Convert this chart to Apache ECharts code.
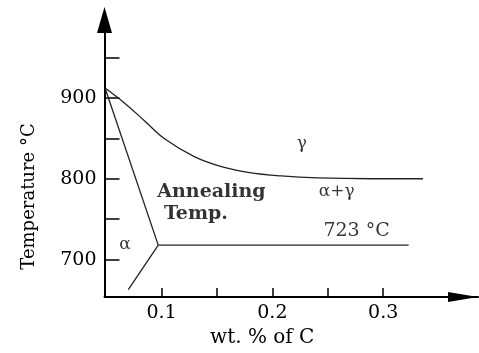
<!DOCTYPE html>
<html>
<head>
<meta charset="utf-8">
<script src="https://cdn.jsdelivr.net/npm/echarts@6/dist/echarts.min.js"></script>
<style>
  html, body { margin: 0; padding: 0; background: #fff; }
  #main { width: 479px; height: 353px; }
</style>
</head>
<body>
<div id="main"></div>
<script>
// 数据 (wt.% C / °C)
var acmCarbon = [0.049, 0.067, 0.085, 0.103, 0.130, 0.154, 0.178, 0.208, 0.241, 0.29, 0.336];
var acmTemp = [912, 893, 871, 849, 827, 815, 808, 803.5, 801, 800, 800];
var a3Carbon = [0.049, 0.097];
var a3Temp = [912, 718];
var a1Carbon = [0.070, 0.097];
var a1Temp = [663, 718];
var eutCarbon = [0.097, 0.323];
var eutTemp = [718, 718];

var xTicks = [0.1, 0.15, 0.2, 0.25, 0.3];
var xLabels = [0.1, 0.2, 0.3];
var yTicks = [700, 750, 800, 850, 900, 950];
var yLabels = [700, 800, 900];

var labelText = ['γ', 'α+γ', 'Annealing', 'Temp.', '723 °C', 'α'];
var labelCarbon = [0.2265, 0.258, 0.145, 0.131, 0.276, 0.067];
var labelTemp = [844, 784, 783, 757, 736, 719];
var labelBold = [false, false, true, true, false, false];

function pairs(xs, ys) {
  return xs.map(function (x, i) { return [x, ys[i]]; });
}

var chart = echarts.init(document.getElementById('main'), null, { renderer: 'canvas' });
var serif = 'DejaVu Serif';
var lineColor = '#222';

function lineSeries(xs, ys, smooth) {
  return {
    type: 'line',
    data: pairs(xs, ys),
    showSymbol: false,
    smooth: smooth ? 0.4 : false,
    lineStyle: { color: lineColor, width: 1.3 },
    silent: true
  };
}

var option = {
  animation: false,
  backgroundColor: '#fff',
  grid: { left: 104.5, right: 1, top: 20, bottom: 54.7 },
  xAxis: {
    type: 'value',
    min: 0.0485,
    max: 0.3856,
    name: 'wt. % of C',
    nameLocation: 'middle',
    nameGap: 31,
    nameTextStyle: { fontFamily: serif, fontSize: 20, color: '#000', padding: [0, 58, 0, 0] },
    axisLine: {
      lineStyle: { color: '#000', width: 2 },
      symbol: ['none', 'triangle'],
      symbolSize: [10, 30],
      symbolOffset: [0, -15]
    },
    axisTick: { show: true, inside: true, length: 9, customValues: xTicks, lineStyle: { color: '#000', width: 1.5 } },
    axisLabel: {
      customValues: xLabels,
      margin: 7,
      fontFamily: serif,
      fontSize: 19,
      color: '#000',
      formatter: function (v) { return v.toFixed(1); }
    },
    splitLine: { show: false }
  },
  yAxis: {
    type: 'value',
    min: 654,
    max: 996,
    name: 'Temperature °C',
    nameLocation: 'middle',
    nameRotate: 90,
    nameGap: 66,
    nameTextStyle: { fontFamily: serif, fontSize: 18, color: '#000', padding: [0, 76, 0, 0] },
    axisLine: {
      lineStyle: { color: '#000', width: 2 },
      symbol: ['none', 'triangle'],
      symbolSize: [15, 26]
    },
    axisTick: { show: true, inside: true, length: 15, customValues: yTicks, lineStyle: { color: '#000', width: 1.5 } },
    axisLabel: {
      customValues: yLabels,
      margin: 8,
      fontFamily: serif,
      fontSize: 19,
      color: '#000'
    },
    splitLine: { show: false }
  },
  series: [
    lineSeries(acmCarbon, acmTemp, true),
    lineSeries(a3Carbon, a3Temp, false),
    lineSeries(a1Carbon, a1Temp, false),
    lineSeries(eutCarbon, eutTemp, false),
    {
      type: 'scatter',
      symbolSize: 0,
      silent: true,
      data: labelText.map(function (t, i) {
        return {
          value: [labelCarbon[i], labelTemp[i]],
          label: {
            show: true,
            position: 'inside',
            formatter: t,
            fontFamily: serif,
            fontSize: labelBold[i] ? 19 : (i === 4 ? 19 : 17),
            fontWeight: labelBold[i] ? 'bold' : 'normal',
            color: '#000'
          }
        };
      })
    }
  ]
};

chart.setOption(option);
</script>
</body>
</html>
